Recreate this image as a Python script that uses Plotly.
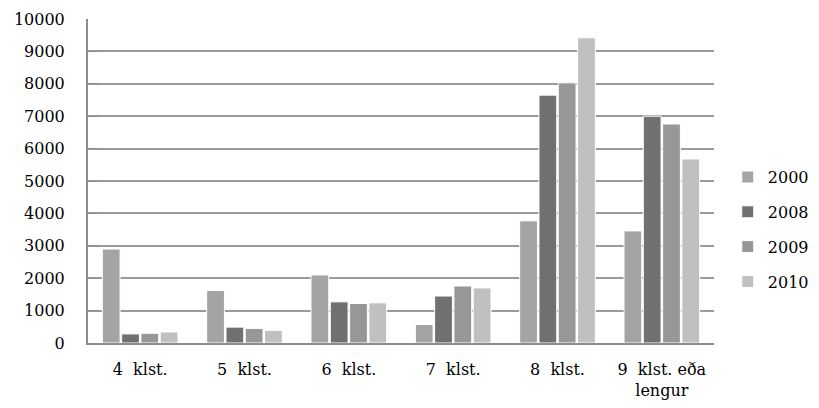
import plotly.graph_objects as go

categories = ["4\u00a0 klst.", "5\u00a0 klst.", "6\u00a0 klst.", "7\u00a0 klst.", "8\u00a0 klst.", "9\u00a0 klst. eða<br>lengur"]
years = ["2000", "2008", "2009", "2010"]
v2000 = [2900, 1620, 2100, 570, 3770, 3460]
v2008 = [280, 490, 1270, 1450, 7650, 7000]
v2009 = [300, 450, 1220, 1760, 8030, 6760]
v2010 = [340, 390, 1240, 1700, 9420, 5680]
colors = ["#a4a4a4", "#707070", "#979797", "#c0c0c0"]

fig = go.Figure()
for i, (name, vals) in enumerate(zip(years, [v2000, v2008, v2009, v2010])):
    fig.add_trace(go.Bar(
        x=categories, y=vals, name=name, legendgroup=name,
        marker=dict(color=colors[i], line=dict(color="white", width=1)),
    ))

font = dict(family="DejaVu Serif", size=16, color="black")
fig.update_layout(
    width=819, height=408,
    margin=dict(l=80, r=113, t=11, b=73, autoexpand=False),
    paper_bgcolor="white", plot_bgcolor="white",
    font=font,
    barmode="group", bargap=0.26, bargroupgap=0.08,
    showlegend=True,
    legend=dict(x=1.022, xanchor="left", y=0.35, yanchor="middle",
                tracegroupgap=11, font=font,
                traceorder="grouped", itemwidth=30),
    xaxis=dict(showline=True, linecolor="#8c8c8c", linewidth=2, ticks="",
               tickfont=font, showgrid=False, ticklabelstandoff=11),
    yaxis=dict(range=[0, 10000], dtick=1000, tickformat="d", showline=True, linecolor="#8c8c8c",
               linewidth=2, ticks="inside", ticklen=10, tickcolor="#8c8c8c",
               showgrid=True, gridcolor="#9a9a9a", gridwidth=1.5,
               tickfont=font, ticklabelstandoff=18, zeroline=False),
)
fig.write_html("out.html")
